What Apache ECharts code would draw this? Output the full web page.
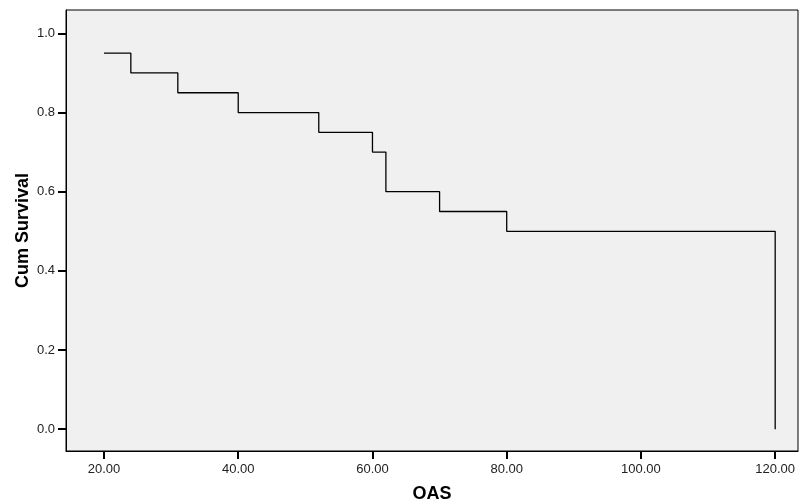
<!DOCTYPE html>
<html>
<head>
<meta charset="utf-8">
<script src="https://cdn.jsdelivr.net/npm/echarts@6/dist/echarts.min.js"></script>
<style>
  html, body { margin: 0; padding: 0; background: #fff; }
  #main { width: 799px; height: 502px; }
</style>
</head>
<body>
<div id="main"></div>
<script>
// survival times and cumulative survival after each event
const times = [20, 24, 31, 40, 52, 60, 62, 70, 80, 120];
const survival = [0.95, 0.90, 0.85, 0.80, 0.75, 0.70, 0.60, 0.55, 0.50, 0.00];
const xTicks = [20, 40, 60, 80, 100, 120];
const yTicks = [0, 0.2, 0.4, 0.6, 0.8, 1.0];

const font = "'Liberation Sans', Arial, sans-serif";
const points = times.map((t, i) => [t, survival[i]]);

const chart = echarts.init(document.getElementById('main'));
chart.setOption({
  animation: false,
  grid: {
    left: 66, top: 10, right: 1, bottom: 51,
    outerBoundsMode: 'none',
    show: true, backgroundColor: '#f0f0f0', borderColor: '#000', borderWidth: 1
  },
  xAxis: {
    type: 'value',
    min: 14.34, max: 123.4,
    name: 'OAS',
    nameLocation: 'middle',
    nameGap: 34,
    nameTextStyle: { fontFamily: font, fontSize: 18, fontWeight: 'bold', color: '#000' },
    splitLine: { show: false },
    axisLine: { show: true, onZero: false, lineStyle: { color: '#000', width: 1 } },
    axisTick: { show: true, length: 8, customValues: xTicks, lineStyle: { color: '#000', width: 2 } },
    axisLabel: {
      customValues: xTicks, margin: 12,
      fontFamily: font, fontSize: 13, color: '#222',
      formatter: v => v.toFixed(2)
    }
  },
  yAxis: {
    type: 'value',
    min: -0.055, max: 1.059,
    name: 'Cum Survival',
    nameLocation: 'middle',
    nameGap: 34,
    nameMoveOverlap: false,
    nameTextStyle: { fontFamily: font, fontSize: 18, fontWeight: 'bold', color: '#000' },
    splitLine: { show: false },
    axisLine: { show: true, onZero: false, lineStyle: { color: '#000', width: 1 } },
    axisTick: { show: true, length: 8, customValues: yTicks, lineStyle: { color: '#000', width: 2 } },
    axisLabel: {
      customValues: yTicks, margin: 11,
      fontFamily: font, fontSize: 13, color: '#222',
      formatter: v => v.toFixed(1)
    }
  },
  series: [{
    type: 'line',
    step: 'end',
    data: points,
    symbol: 'none',
    lineStyle: { color: '#000', width: 1.3 }
  }]
});
</script>
</body>
</html>
